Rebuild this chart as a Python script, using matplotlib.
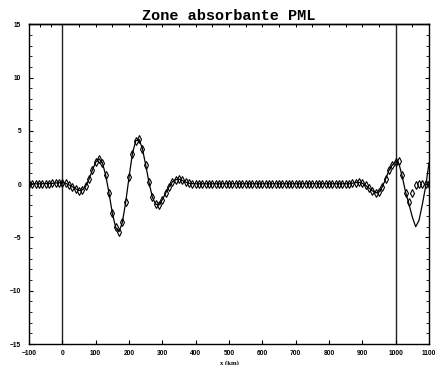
import matplotlib
matplotlib.use("Agg")
import matplotlib.pyplot as plt
import numpy as np

# sample positions (km), one every 10 km
x_km = np.arange(-100, 1110, 10)

# numerical solution with the PML layer (diamonds)
u_pml = [
    0.03, 0.03, 0.03, 0.03, 0.03, 0.04, 0.05, 0.07, 0.10, 0.13,      # -100 .. -10
    0.14, 0.08, -0.08, -0.25, -0.45, -0.60, -0.55, -0.20, 0.45, 1.30,  # 0 .. 90
    2.05, 2.38, 2.00, 0.85, -0.85, -2.72, -4.06, -4.47, -3.60, -1.72,  # 100 .. 190
    0.62, 2.81, 4.06, 4.22, 3.34, 1.81, 0.16, -1.22, -1.88, -1.95,     # 200 .. 290
    -1.47, -0.84, -0.25, 0.20, 0.42, 0.47, 0.34, 0.18, 0.08, 0.04,     # 300 .. 390
    0.03, 0.03, 0.03, 0.03, 0.03, 0.03, 0.03, 0.03, 0.03, 0.03,        # 400 .. 490
    0.03, 0.03, 0.03, 0.03, 0.03, 0.03, 0.03, 0.03, 0.03, 0.03,        # 500 .. 590
    0.03, 0.03, 0.03, 0.03, 0.03, 0.03, 0.03, 0.03, 0.03, 0.03,        # 600 .. 690
    0.03, 0.03, 0.03, 0.03, 0.03, 0.03, 0.03, 0.03, 0.03, 0.03,        # 700 .. 790
    0.03, 0.03, 0.03, 0.03, 0.03, 0.03, 0.03, 0.08, 0.14, 0.16,        # 800 .. 890
    0.08, -0.12, -0.38, -0.62, -0.82, -0.75, -0.25, 0.50, 1.30, 1.80,  # 900 .. 990
    2.10, 2.15, 0.85, -0.85, -1.65, -0.85, -0.10, 0.02, 0.03, 0.03,    # 1000 .. 1090
    0.03,                                                              # 1100
]

# reference solution (solid line) differs only inside the layer, 1010 .. 1100
u_ref_tail = [1.90, 0.65, -0.80, -1.90, -3.10, -4.00, -3.40, -1.90, -0.20, 2.00]
u_ref = u_pml[:111] + u_ref_tail

boundaries = [0, 1000]

fig = plt.figure(figsize=(4.38, 3.65), dpi=100)
ax = fig.add_axes([0.0662, 0.0575, 0.9133, 0.8762])

for xb in boundaries:
    ax.axvline(xb, color="#222222", lw=1.0, zorder=1)

ax.plot(x_km, u_ref, color="black", lw=0.9, zorder=2)
ax.plot(x_km, u_pml, linestyle="none", marker="d", markersize=3.6,
        fillstyle="none", markeredgecolor="black", markeredgewidth=0.8, zorder=3)

ax.set_xlim(-100, 1100)
ax.set_ylim(-15, 15)
ax.set_xticks(np.arange(-100, 1101, 100))
ax.set_yticks([-15, -10, -5, 0, 5, 10, 15])
ax.set_yticks(np.arange(-15, 16, 1), minor=True)

tick_font = {"family": "Liberation Sans", "weight": "bold", "size": 4.8}
ax.set_xticklabels([str(v).replace("-", "\u2212") for v in range(-100, 1101, 100)], fontdict=tick_font)
ax.set_yticklabels([str(v).replace("-", "\u2212") for v in [-15, -10, -5, 0, 5, 10, 15]], fontdict=tick_font)

ax.tick_params(axis="x", which="major", direction="in", length=3, width=0.8, pad=4.5, top=False)
ax.tick_params(axis="y", which="major", direction="in", length=3, width=0.8, pad=5.5, right=True)
ax.tick_params(axis="y", which="minor", direction="in", length=2, width=0.6, right=True)

# top edge carries its own finer ticks
top = ax.secondary_xaxis("top")
top.set_xticks([-66.7, -33.3] + list(range(0, 1101, 50)))
top.set_xticklabels([])
top.tick_params(direction="in", length=2.5, width=0.7)

for sp in ax.spines.values():
    sp.set_linewidth(1.0)
for sp in top.spines.values():
    sp.set_linewidth(1.0)

ax.set_title("Zone absorbante PML", family="Liberation Mono", weight="bold",
             fontsize=11, pad=3)
ax.set_xlabel("x (km)", family="Liberation Serif", weight="bold", fontsize=4.8, labelpad=2)

fig.savefig("out.png", dpi=100)
